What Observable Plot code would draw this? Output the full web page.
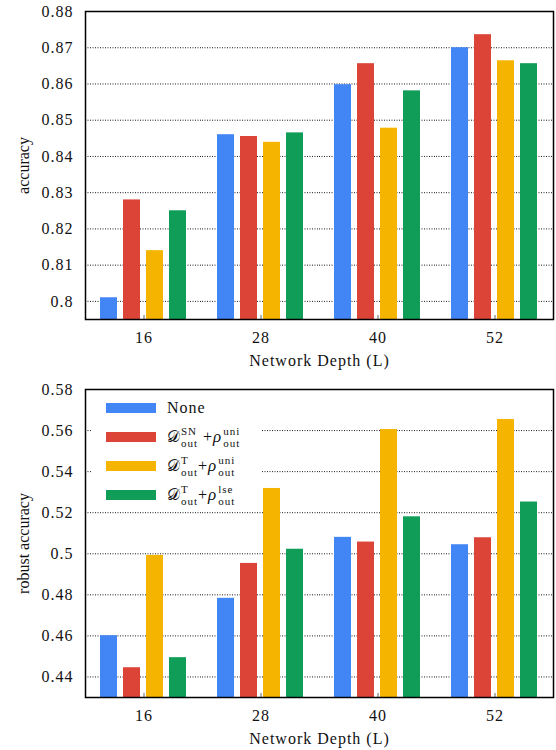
<!DOCTYPE html>
<html><head><meta charset="utf-8">
<script src="https://cdn.jsdelivr.net/npm/d3@7"></script>
<script src="https://cdn.jsdelivr.net/npm/@observablehq/plot@0.6"></script>
<style>
body{margin:0;background:#fff;font-family:"Liberation Serif",serif;}
#wrap{position:relative;width:556px;height:750px;}
#wrap svg{display:block;}
#wrap svg g[aria-label$="tick label"] text, #wrap svg g[aria-label="fx-axis label"] text{letter-spacing:1px;}
.legend{position:absolute;left:91px;top:392px;width:171px;height:116px;background:#fff;color:#111;font-family:"Liberation Serif",serif;letter-spacing:1px;}
.row{position:absolute;left:15px;height:30px;display:flex;align-items:center;}
.sw{width:50px;height:10px;margin-right:11px;}
.lab{font-size:16px;line-height:18px;display:flex;align-items:center;white-space:nowrap;}
.m{font-style:italic;font-size:17px;}
.cal{font-family:"DejaVu Serif","Liberation Serif",serif;font-size:16px;font-style:normal;letter-spacing:0;}
.ss{display:inline-flex;flex-direction:column;font-size:11px;line-height:12px;margin-left:1px;}
.ss span{display:block;height:12px;}
</style></head><body><div id="wrap"></div>
<script>
const depths = ["16", "28", "40", "52"];
const methods = ["None", "SN+uni", "T+uni", "T+lse"];
const colors = ["#4285F4", "#DB4437", "#F4B400", "#0F9D58"];

// accuracy (top)
const accNone = [0.801, 0.846, 0.8598, 0.870];
const accSNuni = [0.828, 0.8455, 0.8656, 0.8736];
const accTuni = [0.814, 0.8439, 0.8478, 0.8664];
const accTlse = [0.825, 0.8465, 0.8581, 0.8656];
const accTicks = [0.8, 0.81, 0.82, 0.83, 0.84, 0.85, 0.86, 0.87, 0.88];

// robust accuracy (bottom)
const robNone = [0.4601, 0.4783, 0.508, 0.5044];
const robSNuni = [0.4445, 0.4953, 0.5057, 0.5078];
const robTuni = [0.4992, 0.5318, 0.5605, 0.5654];
const robTlse = [0.4494, 0.5022, 0.518, 0.5252];
const robTicks = [0.44, 0.46, 0.48, 0.5, 0.52, 0.54, 0.56, 0.58];

function table(series) {
  const rows = [];
  methods.forEach((m, i) => depths.forEach((d, j) => rows.push({depth: d, method: m, value: series[i][j]})));
  return rows;
}

function chart(series, yDomain, yTicks, yLabel, mTop, mBottom) {
  const data = table(series);
  return Plot.plot({
    width: 556, height: 375,
    marginLeft: 84, marginRight: 3, marginTop: mTop, marginBottom: mBottom,
    style: {fontFamily: "Liberation Serif, serif", fontSize: "16px", color: "#111", background: "#fff"},
    fx: {domain: depths, padding: 0, label: null},
    x: {domain: methods, paddingInner: 0.25, paddingOuter: 0.63, axis: null},
    y: {domain: yDomain},
    color: {domain: methods, range: colors},
    marks: [
      Plot.gridY(yTicks.slice(0, -1), {stroke: "#000", strokeOpacity: 0.9, strokeDasharray: "1,1.5"}),
      Plot.barY(data, {fx: "depth", x: "method", y1: yDomain[0], y2: "value", fill: "method"}),
      Plot.axisY(yTicks, {tickSize: 0, tickPadding: 12, tickFormat: d => String(d), fontSize: 16,
        label: yLabel, labelAnchor: "center", labelOffset: 68, labelArrow: "none"}),
      Plot.axisFx({anchor: "bottom", tickSize: -4, tickPadding: 16, fontSize: 16, stroke: "#666",
        label: "Network Depth (L)", labelAnchor: "center", labelOffset: 46, labelArrow: "none"}),
      Plot.frame({stroke: "#000", strokeWidth: 1.5, facet: "super"})
    ]
  });
}

const wrap = document.getElementById("wrap");
wrap.appendChild(chart([accNone, accSNuni, accTuni, accTlse], [0.795, 0.88], accTicks, "accuracy", 11, 56));
wrap.appendChild(chart([robNone, robSNuni, robTuni, robTlse], [0.43, 0.58], robTicks, "robust accuracy", 14, 53));

// legend
const legendLabels = [
  'None',
  '<span class="cal">𝒟</span><span class="ss"><span>SN</span><span>out</span></span>&nbsp;+<span class="m">ρ</span><span class="ss"><span>uni</span><span>out</span></span>',
  '<span class="cal">𝒟</span><span class="ss"><span>T</span><span>out</span></span>+<span class="m">ρ</span><span class="ss"><span>uni</span><span>out</span></span>',
  '<span class="cal">𝒟</span><span class="ss"><span>T</span><span>out</span></span>+<span class="m">ρ</span><span class="ss"><span>lse</span><span>out</span></span>'
];
const lg = document.createElement("div");
lg.className = "legend";
methods.forEach((m, i) => {
  const r = document.createElement("div");
  r.className = "row";
  r.style.top = (1 + i * 29) + "px";
  r.innerHTML = `<div class="sw" style="background:${colors[i]}"></div><div class="lab">${legendLabels[i]}</div>`;
  lg.appendChild(r);
});
wrap.appendChild(lg);
</script>
</body></html>
